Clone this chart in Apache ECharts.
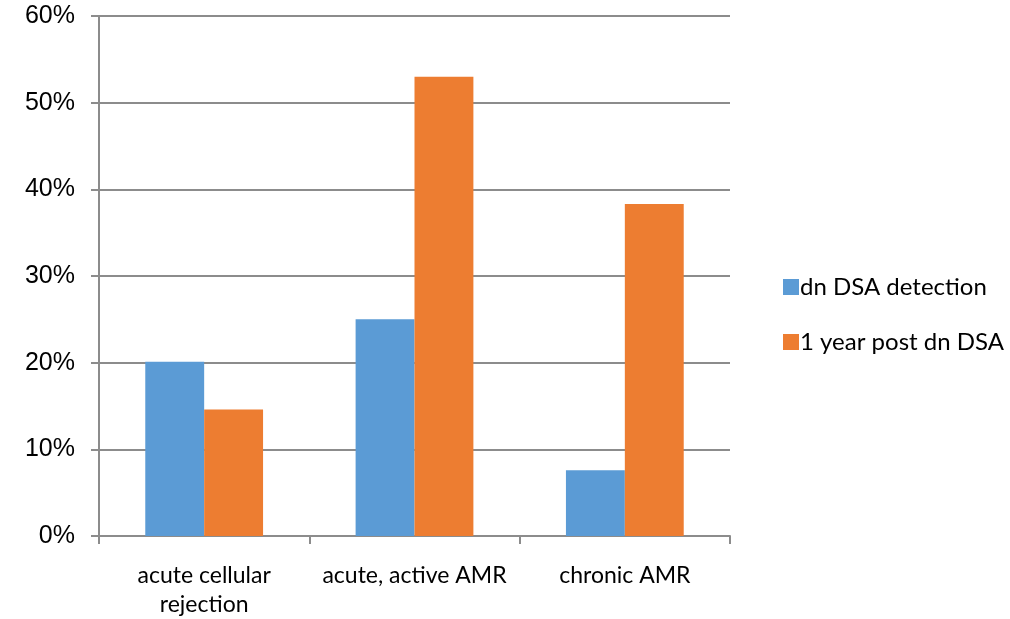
<!DOCTYPE html>
<html>
<head>
<meta charset="utf-8">
<script src="https://cdn.jsdelivr.net/npm/echarts@6/dist/echarts.min.js"></script>
<style>
html, body { margin: 0; padding: 0; background: #fff; }
#chart { width: 1010px; height: 619px; }
</style>
</head>
<body>
<div id="chart"></div>
<script>
var categories = ['acute cellular\nrejection', 'acute, active AMR', 'chronic AMR'];
var seriesNames = ['dn DSA detection', '1 year post dn DSA'];
var detection = [20.1, 25.0, 7.6];
var oneYear = [14.6, 53.0, 38.3];

var chart = echarts.init(document.getElementById('chart'));
var gray = '#8c8c8c';
var option = {
    animation: false,
    color: ['#5B9BD5', '#ED7D31'],
    grid: { left: 99, right: 280, top: 16, bottom: 81 },
    legend: {
        orient: 'vertical',
        left: 778,
        top: 270,
        itemWidth: 16,
        itemHeight: 16,
        itemGap: 31,
        icon: 'rect',
        textStyle: { fontFamily: 'Lato, "Open Sans", sans-serif', fontSize: 24, color: '#000', padding: [0, 0, 0, -4] },
        data: seriesNames
    },
    xAxis: {
        type: 'category',
        data: categories,
        axisLine: { lineStyle: { color: gray, width: 2 } },
        axisTick: { show: true, length: 8, lineStyle: { color: gray, width: 2 } },
        axisLabel: {
            fontFamily: 'Lato, "Open Sans", sans-serif',
            fontSize: 23,
            color: '#000',
            margin: 25,
            lineHeight: 29,
            interval: 0
        }
    },
    yAxis: {
        type: 'value',
        min: 0,
        max: 60,
        interval: 10,
        axisLine: { show: true, lineStyle: { color: gray, width: 2 } },
        axisTick: { show: true, length: 8, lineStyle: { color: gray, width: 2 } },
        splitLine: { lineStyle: { color: gray, width: 2 } },
        axisLabel: {
            formatter: '{value}%',
            fontFamily: 'Liberation Sans, Arial, sans-serif',
            fontSize: 25,
            color: '#000',
            margin: 24
        }
    },
    series: [
        { name: seriesNames[0], type: 'bar', data: detection, barGap: 0, barCategoryGap: '44%' },
        { name: seriesNames[1], type: 'bar', data: oneYear, barGap: 0, barCategoryGap: '44%' }
    ]
};
chart.setOption(option);
</script>
</body>
</html>
